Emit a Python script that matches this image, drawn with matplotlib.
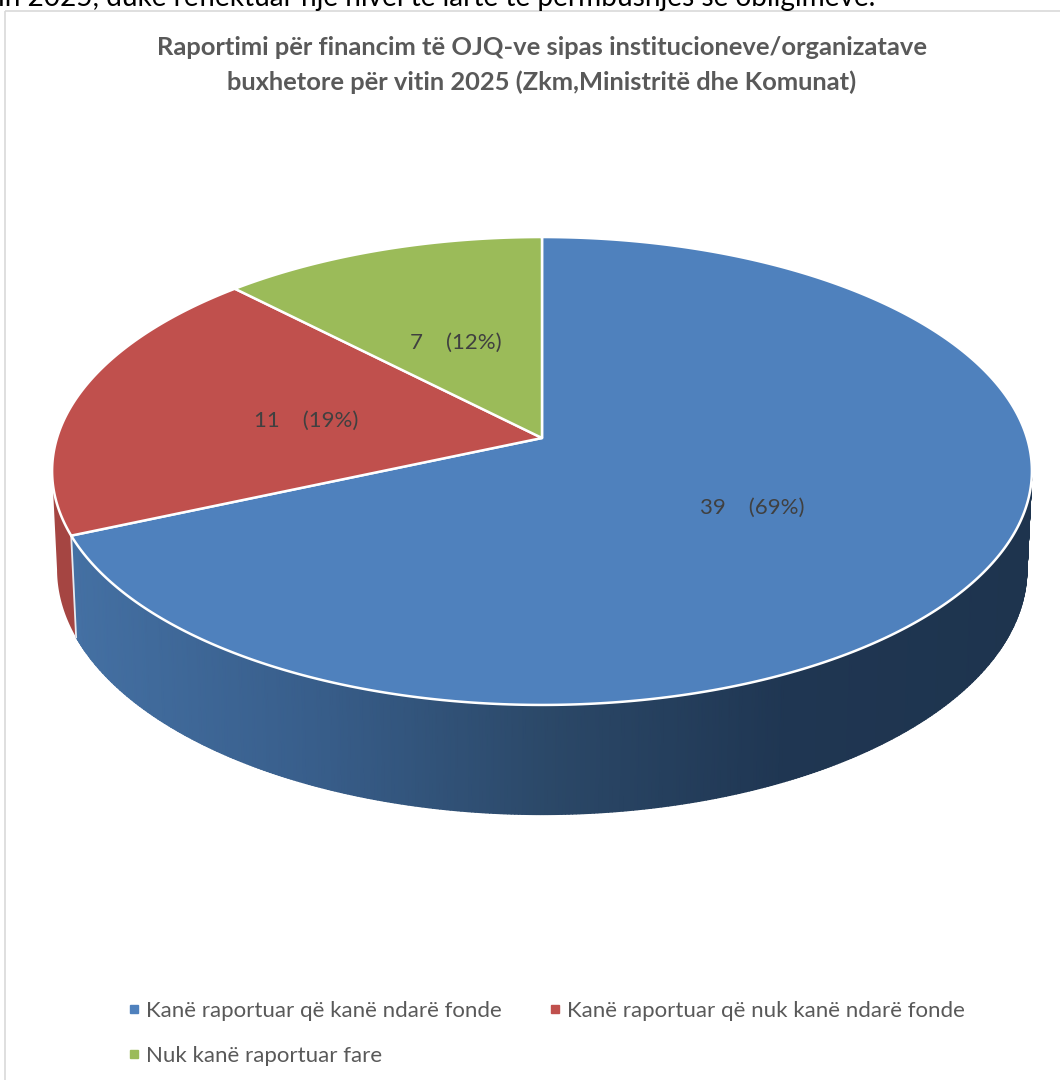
import numpy as np
import matplotlib
matplotlib.use("Agg")
import matplotlib.pyplot as plt
from matplotlib.colors import LinearSegmentedColormap, to_rgb
from matplotlib.lines import Line2D
from matplotlib.patches import Rectangle

categories = ["Kanë raportuar që kanë ndarë fonde",
              "Kanë raportuar që nuk kanë ndarë fonde",
              "Nuk kanë raportuar fare"]
counts = [39, 11, 7]
percent_labels = ["69%", "19%", "12%"]
colors = ["#4F81BD", "#C0504D", "#9BBB59"]
title = ("Raportimi për financim të OJQ-ve sipas institucioneve/organizatave\n"
         "buxhetore për vitin 2025 (Zkm,Ministritë dhe Komunat)")
page_text = "in 2025, duke reflektuar një nivel të lartë të përmbushjes së obligimeve."

FONT = "Lato"
GREY = "#595959"

fig = plt.figure(figsize=(10.6, 10.8), dpi=100)
ax = fig.add_axes([0, 0, 1, 1])
ax.set_xlim(0, 1060)
ax.set_ylim(1080, 0)
ax.axis("off")

# projection of the pie's unit disc into the axes (perspective view)
CX, CY, RX, RY, K = 542.0, 438.0, 485.0, 229.3, 0.141
C_LOW, H_LOW = 0.010, 98.0


def top(theta, r=1.0):
    u, v = r * np.sin(theta), r * np.cos(theta)
    w = 1 + K * v
    return CX + RX * u / w, CY - RY * v / w


def bottom(theta):
    u, v = np.sin(theta), np.cos(theta)
    w = 1 + K * v + C_LOW
    return CX + RX * u / w, CY + (H_LOW - RY * v) / w


fractions = np.array(counts, dtype=float) / np.sum(counts)
edges = np.concatenate([[0.0], np.cumsum(fractions)]) * 2 * np.pi

# side wall of the large slice: smooth horizontal shading
blue_wall = LinearSegmentedColormap.from_list(
    "b", [(0.0, "#4470A3"), (0.25, "#385E8B"), (0.5, "#2B4868"), (0.75, "#1F3652"), (1.0, "#1E344E")])
silhouette = np.arccos(-K)
th = np.linspace(silhouette, edges[1], 400)
xa, ya = top(th)
xb, yb = bottom(th)
X = np.vstack([xa, xb])
Y = np.vstack([ya, yb])
shade = np.clip((np.vstack([xa, xa]) - 70) / 960, 0, 1)
ax.pcolormesh(X, Y, shade, shading="gouraud", cmap=blue_wall, vmin=0, vmax=1, zorder=1)

# side wall of the red slice, up to the left silhouette
th = np.linspace(edges[1], 2 * np.pi - silhouette, 80)
xa, ya = top(th)
xb, yb = bottom(th)
red_wall = tuple(c * 0.86 for c in to_rgb(colors[1]))
ax.fill(np.r_[xa, xb[::-1]], np.r_[ya, yb[::-1]], color=red_wall, lw=0, zorder=1)

# seam between the two walls
xa, ya = top(edges[1])
xb, yb = bottom(edges[1])
ax.plot([xa, xb], [ya, yb], color="#E8EAF0", lw=1.3, zorder=2)

# top faces
for i, col in enumerate(colors):
    th = np.linspace(edges[i], edges[i + 1], 400)
    x, y = top(th)
    ax.fill(np.r_[CX, x], np.r_[CY, y], facecolor=col, edgecolor="white", lw=1.8,
            joinstyle="round", zorder=3)

# value labels
for i, (n, p) in enumerate(zip(counts, percent_labels)):
    x, y = top((edges[i] + edges[i + 1]) / 2, 0.5)
    ax.text(x - 1, y + 5, f"{n}    ({p})", ha="center", va="center", fontsize=16,
            color="#404040", family=FONT, zorder=4)

# chart frame and clipped running text
ax.add_patch(Rectangle((4.5, 10.5), 1100, 1100, fill=False, edgecolor="#D9D9D9", lw=1.2, zorder=0))
ax.text(-2, 6, page_text, ha="left", va="baseline", fontsize=20.2, color="black", family=FONT, zorder=5)

ax.text(542, 65, title, ha="center", va="center", fontsize=18.35, fontweight="bold",
        color=GREY, family=FONT, linespacing=1.6)

handles = [Line2D([], [], linestyle="none", marker="s", markersize=5.5, color=c) for c in colors]
order = [0, 2, 1]
leg = ax.legend([handles[i] for i in order], [categories[i] for i in order],
                ncol=2, loc="upper left", bbox_to_anchor=(128, 1001), bbox_transform=ax.transData,
                frameon=False, prop={"family": FONT, "size": 16.05}, labelcolor=GREY,
                handlelength=0.5, handletextpad=0.3, columnspacing=2.15, labelspacing=1.1,
                borderpad=0, borderaxespad=0)

fig.savefig("out.png", dpi=100, facecolor="white")
